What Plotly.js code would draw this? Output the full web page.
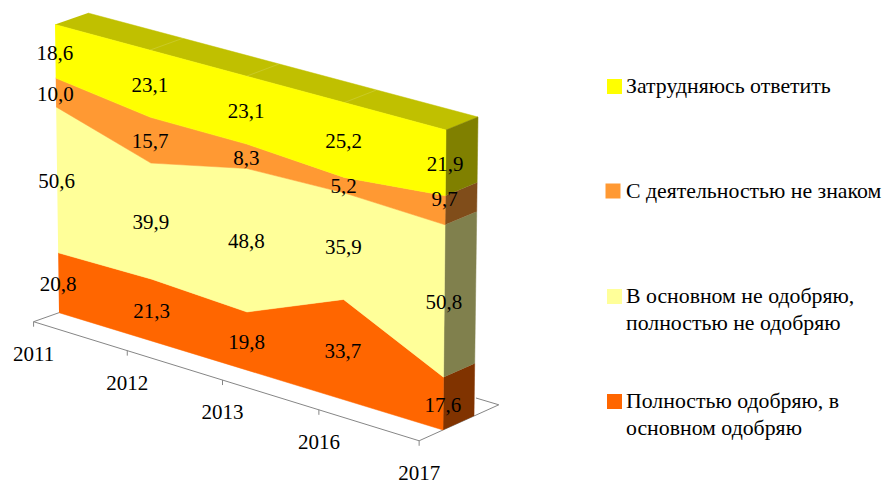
<!DOCTYPE html>
<html>
<head>
<meta charset="utf-8">
<script src="https://cdn.plot.ly/plotly-3.0.1.min.js"></script>
<style>html,body{margin:0;padding:0;background:#fff}#chart{width:884px;height:484px}</style>
</head>
<body>
<div id="chart"></div>
<script>
// ---- data (bottom to top of the stack) ----
const categories = ['2011', '2012', '2013', '2016', '2017'];
const approve   = [20.8, 21.3, 19.8, 33.7, 17.6];
const disapprove= [50.6, 39.9, 48.8, 35.9, 50.8];
const unfamiliar= [10.0, 15.7, 8.3, 5.2, 9.7];
const unsure    = [18.6, 23.1, 23.1, 25.2, 21.9];
const legendApprove    = ['Полностью одобряю, в', 'основном одобряю'];
const legendDisapprove = ['В основном не одобряю,', 'полностью не одобряю'];
const legendUnfamiliar = ['С деятельностью не знаком'];
const legendUnsure     = ['Затрудняюсь ответить'];

const frontColors = ['#FF6600', '#FFFF99', '#FF9933', '#FFFF00'];
const sideColors  = ['#803300', '#80804D', '#804D1A', '#808000'];
const topColor = '#C0C000';
const FONT = 'Liberation Serif, Times New Roman, serif';
const FS = 21;
const FS_LEGEND = 21.8;

// ---- oblique chart box, projected to the page ----
const catPos = [0, 0.243, 0.49, 0.74, 1];
const box = {
  f0b: [59, 312.7], f0t: [55, 24.5], f1b: [443, 430], f1t: [446, 130],
  b0b: [92, 301],   b0t: [88, 13],   b1b: [474, 416], b1t: [478, 117]
};
function P(t, v, d) {
  const vv = v / 100, out = [];
  for (let k = 0; k < 2; k++) {
    const f0 = box.f0b[k] + (box.f0t[k] - box.f0b[k]) * vv;
    const f1 = box.f1b[k] + (box.f1t[k] - box.f1b[k]) * vv;
    const b0 = box.b0b[k] + (box.b0t[k] - box.b0b[k]) * vv;
    const b1 = box.b1b[k] + (box.b1t[k] - box.b1b[k]) * vv;
    const f = f0 + (f1 - f0) * t, b = b0 + (b1 - b0) * t;
    out.push(f + (b - f) * d);
  }
  return out;
}
const series = [approve, disapprove, unfamiliar, unsure];
const stacks = [categories.map(() => 0)];
series.forEach((s, i) => stacks.push(s.map((v, j) => stacks[i][j] + v)));

const traces = [];
function poly(pts, color) {
  traces.push({
    type: 'scatter', mode: 'lines', fill: 'toself', fillcolor: color,
    x: pts.map(p => p[0]), y: pts.map(p => p[1]),
    line: {color: color, width: 0.5}, hoverinfo: 'skip', showlegend: false
  });
}
function lines(segs, color, width) {
  const x = [], y = [];
  segs.forEach(s => { s.forEach(p => { x.push(p[0]); y.push(p[1]); }); x.push(null); y.push(null); });
  traces.push({type: 'scatter', mode: 'lines', x, y, line: {color, width},
    hoverinfo: 'skip', showlegend: false});
}
function texts(items, pos, size) {
  traces.push({type: 'scatter', mode: 'text', x: items.map(i => i[0]), y: items.map(i => i[1]),
    text: items.map(i => i[2]), textposition: pos, cliponaxis: false,
    textfont: {family: FONT, size: size, color: '#000'}, hoverinfo: 'skip', showlegend: false});
}

// floor outline and ticks
const dFront = -0.77, dBack = 1.8;
lines([
  [P(0, 0, 0), P(0, 0, dFront), P(1, 0, dFront), P(1, 0, dBack), P(0.94, 0, dBack)],
  ...catPos.map(t => { const a = P(t, 0, dFront); return [a, [a[0], a[1] + 5]]; })
], '#868686', 1);

// top face
poly([P(0, 100, 0), P(1, 100, 0), P(1, 100, 1), P(0, 100, 1)], topColor);
lines(catPos.slice(1, 4).map(t => [P(t, 100, 0), P(t, 100, 1)]), 'rgba(255,255,255,0.25)', 0.6);

// end (side) faces
series.forEach((s, i) => {
  const n = categories.length - 1;
  poly([P(1, stacks[i][n], 0), P(1, stacks[i + 1][n], 0), P(1, stacks[i + 1][n], 1), P(1, stacks[i][n], 1)], sideColors[i]);
});

// front faces
series.forEach((s, i) => {
  const low = catPos.map((t, j) => P(t, stacks[i][j], 0));
  const up = catPos.map((t, j) => P(t, stacks[i + 1][j], 0)).reverse();
  poly(low.concat(up), frontColors[i]);
});

// value labels (the 2017 "unfamiliar" label sits higher than its band centre)
const nudge = {'2-4': -13};
const labels = [];
series.forEach((s, i) => s.forEach((v, j) => {
  const p = P(catPos[j], stacks[i][j] + v / 2, 0);
  labels.push([p[0] - 0.5, p[1] + 3 + (nudge[i + '-' + j] || 0), v.toFixed(1).replace('.', ',')]);
}));
texts(labels, 'middle center', FS);

// category labels
texts(categories.map((c, j) => { const a = P(catPos[j], 0, dFront); return [a[0], a[1] + 34, c]; }), 'middle center', FS);

// legend
const legendTop = [[legendUnsure, 88, 0], [legendUnfamiliar, 193, 1], [legendDisapprove, 298, 2], [legendApprove, 403, 3]];
const legendCols = [frontColors[3], frontColors[2], frontColors[1], frontColors[0]];
traces.push({type: 'scatter', mode: 'markers', x: [614.5, 613, 614.5, 614.5], y: [86.5, 191, 296.5, 401.5],
  marker: {symbol: 'square', size: 15, color: legendCols, line: {width: 0}}, hoverinfo: 'skip', showlegend: false});
const legendItems = [];
legendTop.forEach(e => e[0].forEach((s, k) => legendItems.push([626, e[1] + k * 26.5, s])));
texts(legendItems, 'middle right', FS_LEGEND);

Plotly.newPlot('chart', traces, {
  width: 884, height: 484, margin: {l: 0, r: 0, t: 0, b: 0},
  paper_bgcolor: '#fff', plot_bgcolor: '#fff', showlegend: false,
  xaxis: {range: [0, 884], visible: false, fixedrange: true},
  yaxis: {range: [484, 0], visible: false, fixedrange: true}
}, {staticPlot: true, displayModeBar: false});
</script>
</body>
</html>
